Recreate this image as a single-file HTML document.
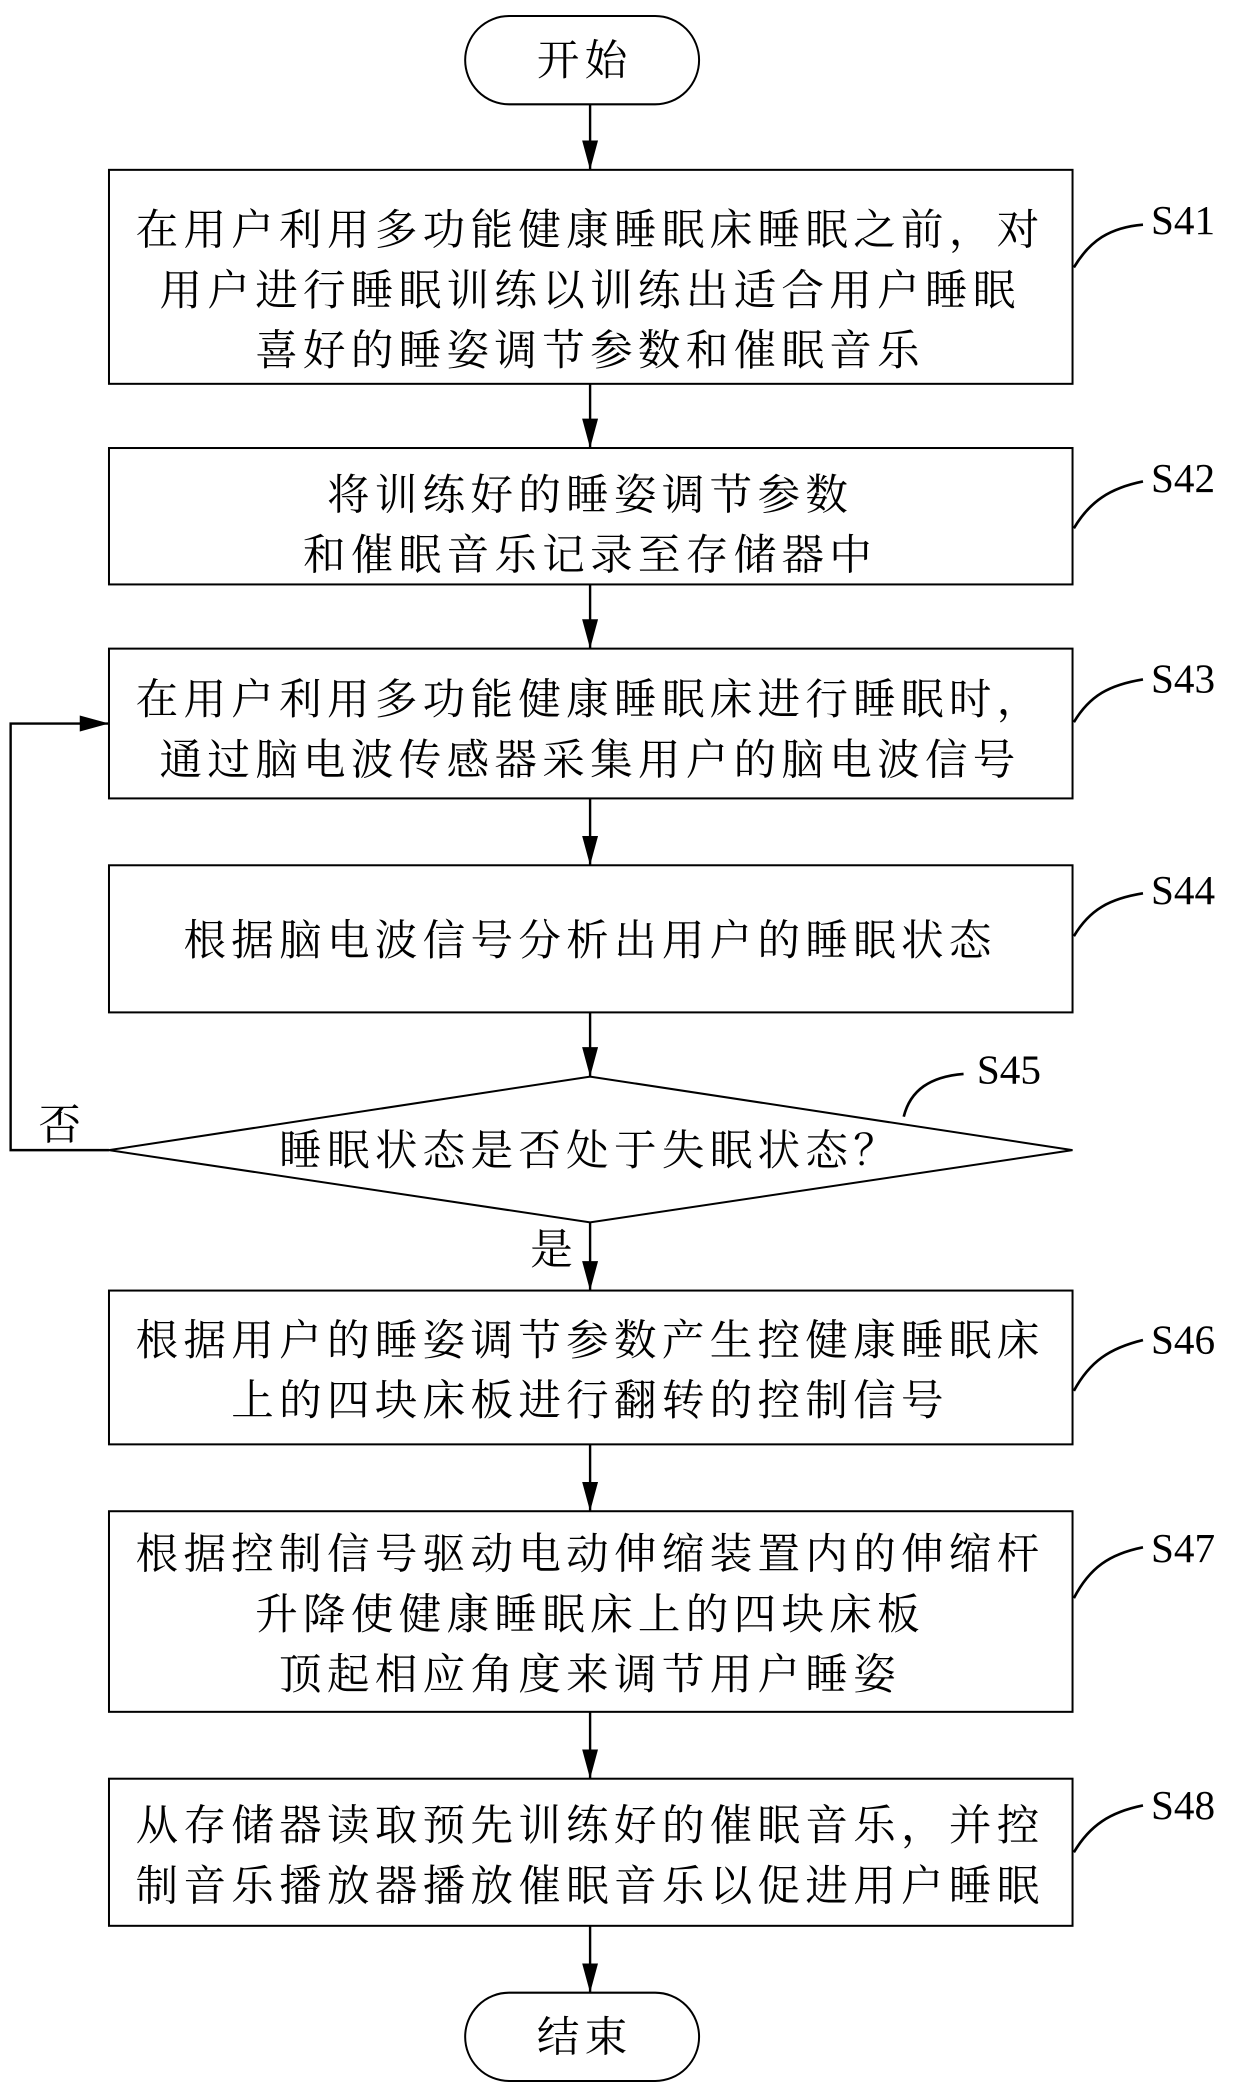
<!DOCTYPE html>
<html><head><meta charset="utf-8">
<style>
html,body{margin:0;padding:0;background:#fff;}
svg{display:block;}
text{font-family:"Liberation Serif","Noto Serif CJK SC","Noto Sans CJK SC",serif;fill:#000;}
.c{letter-spacing:4px;}
</style></head>
<body>
<svg width="1240" height="2097" viewBox="0 0 933 1568" preserveAspectRatio="none" xmlns="http://www.w3.org/2000/svg">
<defs>
<marker id="b" markerWidth="22" markerHeight="12" refX="22" refY="6" orient="auto" markerUnits="userSpaceOnUse">
<path d="M0,0 L22,6 L0,12 Z" fill="#000"/>
</marker>
</defs>
<g stroke="#000" stroke-width="1.5" fill="none">
<rect x="350" y="12" width="176" height="66" rx="33"/>
<rect x="82" y="127" width="725" height="160"/>
<rect x="82" y="335" width="725" height="102"/>
<rect x="82" y="485" width="725" height="112"/>
<rect x="82" y="647" width="725" height="110"/>
<polygon points="444,805 807,860 444,914 82,860"/>
<rect x="82" y="965" width="725" height="115"/>
<rect x="82" y="1130" width="725" height="150"/>
<rect x="82" y="1330" width="725" height="110"/>
<rect x="350" y="1490" width="176" height="66" rx="33"/>
</g>
<g stroke="#000" stroke-width="1.8" fill="none">
<line x1="444" y1="78" x2="444" y2="127" marker-end="url(#b)"/>
<line x1="444" y1="287" x2="444" y2="335" marker-end="url(#b)"/>
<line x1="444" y1="437" x2="444" y2="485" marker-end="url(#b)"/>
<line x1="444" y1="597" x2="444" y2="647" marker-end="url(#b)"/>
<line x1="444" y1="757" x2="444" y2="805" marker-end="url(#b)"/>
<line x1="444" y1="914" x2="444" y2="965" marker-end="url(#b)"/>
<line x1="444" y1="1080" x2="444" y2="1130" marker-end="url(#b)"/>
<line x1="444" y1="1280" x2="444" y2="1330" marker-end="url(#b)"/>
<line x1="444" y1="1440" x2="444" y2="1490" marker-end="url(#b)"/>
<polyline points="82,860 8,860 8,541 82,541" marker-end="url(#b)"/>
</g>
<g stroke="#000" stroke-width="2" fill="none">
<path d="M808,200 C820,180 835,170 860,168"/>
<path d="M808,395 C820,375 835,365 860,360"/>
<path d="M808,540 C820,520 835,512 860,508"/>
<path d="M808,700 C820,680 835,672 860,668"/>
<path d="M680,835 C685,815 700,805 725,803"/>
<path d="M808,1040 C820,1018 835,1008 860,1002"/>
<path d="M808,1195 C820,1172 835,1162 860,1157"/>
<path d="M808,1385 C820,1365 835,1355 860,1350"/>
</g>
<g font-size="32" text-anchor="middle" class="c">
<text x="440" y="56">开始</text>
<text x="440" y="1534">结束</text>
<text x="444" y="183">在用户利用多功能健康睡眠床睡眠之前，对</text>
<text x="444" y="228">用户进行睡眠训练以训练出适合用户睡眠</text>
<text x="444" y="273">喜好的睡姿调节参数和催眠音乐</text>
<text x="444" y="381">将训练好的睡姿调节参数</text>
<text x="444" y="426">和催眠音乐记录至存储器中</text>
<text x="444" y="534">在用户利用多功能健康睡眠床进行睡眠时，</text>
<text x="444" y="579">通过脑电波传感器采集用户的脑电波信号</text>
<text x="444" y="714">根据脑电波信号分析出用户的睡眠状态</text>
<text x="444" y="871">睡眠状态是否处于失眠状态？</text>
<text x="444" y="1013">根据用户的睡姿调节参数产生控健康睡眠床</text>
<text x="444" y="1058">上的四块床板进行翻转的控制信号</text>
<text x="444" y="1173">根据控制信号驱动电动伸缩装置内的伸缩杆</text>
<text x="444" y="1218">升降使健康睡眠床上的四块床板</text>
<text x="444" y="1263">顶起相应角度来调节用户睡姿</text>
<text x="444" y="1376">从存储器读取预先训练好的催眠音乐，并控</text>
<text x="444" y="1421">制音乐播放器播放催眠音乐以促进用户睡眠</text>
<text x="47" y="852">否</text>
<text x="417" y="945">是</text>
</g>
<g font-size="31">
<text x="866" y="175">S41</text>
<text x="866" y="368">S42</text>
<text x="866" y="518">S43</text>
<text x="866" y="676">S44</text>
<text x="735" y="810">S45</text>
<text x="866" y="1012">S46</text>
<text x="866" y="1168">S47</text>
<text x="866" y="1360">S48</text>
</g>
</svg>
</body></html>
